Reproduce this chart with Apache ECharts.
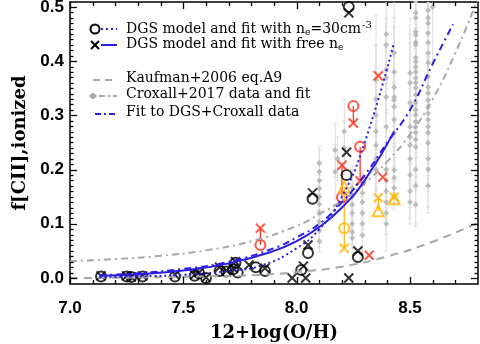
<!DOCTYPE html>
<html>
<head>
<meta charset="utf-8">
<script src="https://cdn.jsdelivr.net/npm/echarts@6/dist/echarts.min.js"></script>
<style>
  html, body { margin: 0; background: #fff; }
  #chart { width: 480px; height: 344px; }
</style>
</head>
<body>
<div id="chart"></div>
<script>
// tick labels
const xMajor = [7.0, 7.5, 8.0, 8.5];
const yMajor = [0.0, 0.1, 0.2, 0.3, 0.4, 0.5];

// fitted curves
const kaufX = [7.0, 7.3, 7.6, 7.8, 8.0, 8.2, 8.4, 8.6, 8.8];
const kaufY = [0.0, 0.001, 0.003, 0.005, 0.011, 0.021, 0.04, 0.067, 0.102];
const croxFitX = [7.0, 7.2, 7.4, 7.6, 7.8, 8.0, 8.1, 8.2, 8.3, 8.4, 8.5, 8.6, 8.7, 8.8];
const croxFitY = [0.031, 0.035, 0.041, 0.051, 0.068, 0.096, 0.118, 0.143, 0.175, 0.215, 0.265, 0.33, 0.415, 0.515];
const fit30X = [7.13, 7.3, 7.5, 7.7, 7.85, 8.0, 8.1, 8.2, 8.3, 8.43];
const fit30Y = [0.001, 0.003, 0.006, 0.013, 0.024, 0.055, 0.09, 0.15, 0.25, 0.435];
const fitFreeX = [7.13, 7.3, 7.5, 7.7, 7.9, 8.0, 8.1, 8.2, 8.3, 8.43];
const fitFreeY = [0.004, 0.007, 0.014, 0.027, 0.05, 0.068, 0.094, 0.13, 0.18, 0.27];
const fitAllX = [7.13, 7.3, 7.5, 7.7, 7.9, 8.0, 8.1, 8.2, 8.3, 8.4, 8.5, 8.6, 8.69];
const fitAllY = [0.005, 0.009, 0.017, 0.03, 0.055, 0.075, 0.1, 0.14, 0.19, 0.25, 0.31, 0.395, 0.468];

// Croxall+2017 regions: metallicity, f[CII] ionized, error
const croxX = [
  8.10, 8.10, 8.10, 8.10, 8.10, 8.10, 8.10, 8.10, 8.10, 8.10,
  8.17, 8.18, 8.17, 8.21, 8.21,
  8.245, 8.245, 8.245, 8.245, 8.245, 8.245, 8.245,
  8.29, 8.29, 8.29, 8.29, 8.29,
  8.35, 8.35, 8.35, 8.35, 8.35, 8.35, 8.35,
  8.395, 8.395, 8.395, 8.395, 8.395, 8.395, 8.395, 8.395, 8.395, 8.395, 8.395, 8.395,
  8.43, 8.43, 8.43, 8.43, 8.43, 8.43, 8.43, 8.43, 8.43, 8.43, 8.43,
  8.50, 8.50, 8.50, 8.50, 8.50, 8.50, 8.50, 8.50, 8.50, 8.50,
  8.525, 8.525, 8.525, 8.525, 8.525, 8.525, 8.525, 8.525, 8.525, 8.525, 8.525, 8.525, 8.525,
  8.525, 8.525, 8.525, 8.525, 8.525, 8.525, 8.525, 8.525, 8.525, 8.525, 8.525, 8.525,
  8.58, 8.58, 8.58, 8.58, 8.58, 8.58, 8.58, 8.58, 8.58, 8.58, 8.58, 8.58, 8.58, 8.58, 8.58,
  8.58, 8.58, 8.58, 8.58, 8.58,
  8.60
];
const croxY = [
  0.212, 0.196, 0.18, 0.165, 0.15, 0.136, 0.121, 0.104, 0.087, 0.068,
  0.236, 0.22, 0.196, 0.27, 0.24,
  0.166, 0.15, 0.135, 0.12, 0.10, 0.085, 0.074,
  0.157, 0.14, 0.12, 0.10, 0.079,
  0.365, 0.33, 0.30, 0.27, 0.245, 0.22, 0.20,
  0.45, 0.43, 0.384, 0.369, 0.334, 0.279, 0.20, 0.18, 0.16, 0.14, 0.12, 0.10,
  0.415, 0.38, 0.352, 0.334, 0.328, 0.316, 0.292, 0.268, 0.199, 0.185, 0.166,
  0.378, 0.36, 0.323, 0.279, 0.26, 0.245, 0.22, 0.19, 0.16, 0.14,
  0.489, 0.48, 0.454, 0.448, 0.435, 0.43, 0.406, 0.399, 0.389, 0.38, 0.369, 0.36, 0.351,
  0.338, 0.323, 0.31, 0.301, 0.288, 0.279, 0.268, 0.255, 0.242, 0.20, 0.17, 0.135,
  0.494, 0.48, 0.47, 0.452, 0.434, 0.415, 0.397, 0.371, 0.352, 0.341, 0.328, 0.316, 0.304, 0.292, 0.279,
  0.268, 0.249, 0.22, 0.20, 0.17,
  0.50
];
const croxErr = [
  0.03, 0.04, 0.03, 0.05, 0.04, 0.03, 0.05, 0.04, 0.03, 0.02,
  0.05, 0.04, 0.05, 0.06, 0.05,
  0.04, 0.05, 0.04, 0.03, 0.04, 0.03, 0.04,
  0.04, 0.05, 0.03, 0.04, 0.03,
  0.12, 0.10, 0.09, 0.11, 0.08, 0.07, 0.06,
  0.10, 0.12, 0.08, 0.11, 0.09, 0.08, 0.06, 0.07, 0.05, 0.06, 0.04, 0.05,
  0.12, 0.10, 0.11, 0.09, 0.08, 0.10, 0.07, 0.09, 0.06, 0.05, 0.04,
  0.10, 0.09, 0.11, 0.08, 0.09, 0.07, 0.08, 0.06, 0.05, 0.04,
  0.14, 0.12, 0.13, 0.10, 0.12, 0.14, 0.09, 0.11, 0.12, 0.08, 0.10, 0.09, 0.11,
  0.08, 0.10, 0.09, 0.07, 0.10, 0.08, 0.09, 0.07, 0.08, 0.06, 0.07, 0.04,
  0.14, 0.12, 0.13, 0.11, 0.12, 0.10, 0.11, 0.09, 0.10, 0.11, 0.08, 0.09, 0.10, 0.08, 0.09,
  0.07, 0.08, 0.06, 0.07, 0.05,
  0.10
];

// DGS galaxies: model with n_e = 30 cm^-3 (circles) and free n_e (crosses)
const dgs30X = [7.137, 7.25, 7.27, 7.32, 7.463, 7.55, 7.57, 7.60, 7.66, 7.73, 7.69, 7.72, 7.74, 7.82, 7.86, 8.02, 8.05, 8.07, 8.22, 8.23, 8.27];
const dgs30Y = [0.003, 0.003, 0.002, 0.003, 0.003, 0.004, 0.009, 0.0, 0.013, 0.028, 0.012, 0.016, 0.01, 0.02, 0.013, 0.015, 0.046, 0.146, 0.19, 0.50, 0.039];
const dgsFreeX = [7.137, 7.25, 7.27, 7.32, 7.463, 7.55, 7.57, 7.60, 7.66, 7.73, 7.69, 7.72, 7.79, 7.86, 7.98, 8.04, 8.03, 8.05, 8.07, 8.22, 8.23, 8.27, 8.23];
const dgsFreeY = [0.004, 0.004, 0.002, 0.004, 0.006, 0.006, 0.01, 0.001, 0.02, 0.03, 0.014, 0.018, 0.024, 0.018, 0.0, 0.0, 0.022, 0.061, 0.157, 0.232, 0.489, 0.05, 0.0];
const red30X = [7.84, 8.20, 8.28, 8.25];
const red30Y = [0.061, 0.149, 0.242, 0.317];
const redFreeX = [7.84, 8.20, 8.28, 8.25, 8.36, 8.38, 8.32];
const redFreeY = [0.092, 0.208, 0.179, 0.286, 0.373, 0.186, 0.042];
const orgTriX = [8.21, 8.36, 8.43];
const orgTriY = [0.168, 0.124, 0.146];
const org30X = [8.21];
const org30Y = [0.092];
const orgFreeX = [8.21, 8.36, 8.43];
const orgFreeY = [0.055, 0.148, 0.149];

const BLUE = '#2b1de6';
const GRAY = '#a8a8a8';
const RED = '#ff2a1a';
const ORANGE = '#ffb400';
const CROSS = 'path://M0,0L10,10M10,0L0,10';
const X_MIN = 7.0, X_MAX = 8.8, Y_MIN = -0.011, Y_MAX = 0.509;

const zip = (xs, ys) => xs.map((x, i) => [x, ys[i]]);

const xMinor = [];
for (let i = 71; i <= 87; i++) if (i % 5) xMinor.push(i / 10);
const yMinor = [];
for (let i = 1; i <= 50; i++) if (i % 10) yMinor.push(i / 100);

const labelStyle = { fontFamily: 'Liberation Sans', fontWeight: 'bold', fontSize: 17, color: '#000' };
const titleStyle = { fontFamily: 'DejaVu Serif', fontWeight: 'bold', fontSize: 18, color: '#000' };

const frameAxis = (position, min, max, extra) => Object.assign({
  type: 'value',
  position: position,
  min: min,
  max: max,
  axisLine: { show: true, onZero: false, lineStyle: { color: '#000', width: 1.5 } },
  axisTick: { show: false },
  axisLabel: { show: false },
  splitLine: { show: false }
}, extra || {});

const errBars = (xs, ys, es) => xs.map((x, i) => [x, ys[i] - es[i], ys[i] + es[i]]);

const vline = (color, width, cap) => (params, api) => {
  const rect = params.coordSys;
  const p1 = api.coord([api.value(0), api.value(1)]);
  const p2 = api.coord([api.value(0), api.value(2)]);
  const yTop = rect.y, yBot = rect.y + rect.height;
  const y1 = Math.min(Math.max(p1[1], yTop), yBot);
  const y2 = Math.min(Math.max(p2[1], yTop), yBot);
  const children = [{
    type: 'line', shape: { x1: p1[0], y1: y1, x2: p2[0], y2: y2 },
    style: { stroke: color, lineWidth: width }
  }];
  if (cap) {
    if (p1[1] <= yBot && p1[1] >= yTop) children.push({ type: 'line', shape: { x1: p1[0] - cap, y1: p1[1], x2: p1[0] + cap, y2: p1[1] }, style: { stroke: color, lineWidth: width } });
    if (p2[1] <= yBot && p2[1] >= yTop) children.push({ type: 'line', shape: { x1: p2[0] - cap, y1: p2[1], x2: p2[0] + cap, y2: p2[1] }, style: { stroke: color, lineWidth: width } });
  }
  return { type: 'group', children: children };
};

const curve = (xs, ys, color, type, width) => ({
  type: 'line', data: zip(xs, ys), showSymbol: false, smooth: true, silent: true,
  lineStyle: { color: color, type: type, width: width || 2 }
});

const marks = (xs, ys, symbol, size, color, width) => ({
  type: 'scatter', data: zip(xs, ys), symbol: symbol, symbolSize: size, silent: true,
  itemStyle: { color: 'rgba(0,0,0,0)', borderColor: color, borderWidth: width || 2 }
});

const chart = echarts.init(document.getElementById('chart'), null, { renderer: 'canvas' });

const legendRows = [
  { y: 29, text: '{t|DGS model and fit with n}{s|e}{t|=30cm}{p|-3}' },
  { y: 45, text: '{t|DGS model and fit with free n}{s|e}' },
  { y: 80, text: '{t|Kaufman+2006 eq.A9}' },
  { y: 96, text: '{t|Croxall+2017 data and fit}' },
  { y: 114, text: '{t|Fit to DGS+Croxall data}' }
];
const legendRich = {
  t: { fontFamily: 'DejaVu Serif', fontSize: 14, color: '#000', lineHeight: 16 },
  s: { fontFamily: 'DejaVu Serif', fontSize: 9, color: '#000', padding: [7, 0, 0, 0], lineHeight: 16 },
  p: { fontFamily: 'DejaVu Serif', fontSize: 10, color: '#000', padding: [0, 0, 8, 1], lineHeight: 16 }
};

const graphics = legendRows.map((r) => ({
  type: 'text', left: 126, top: r.y - 9,
  style: { text: r.text, rich: legendRich, textVerticalAlign: 'top' }
}));
graphics.push(
  { type: 'circle', shape: { cx: 95, cy: 29, r: 4.5 }, style: { fill: 'none', stroke: '#000', lineWidth: 2 } },
  { type: 'line', shape: { x1: 101, y1: 29, x2: 117, y2: 29 }, style: { stroke: BLUE, lineWidth: 2, lineDash: [2, 3] } },
  { type: 'line', shape: { x1: 91, y1: 41, x2: 99, y2: 49 }, style: { stroke: '#000', lineWidth: 2 } },
  { type: 'line', shape: { x1: 99, y1: 41, x2: 91, y2: 49 }, style: { stroke: '#000', lineWidth: 2 } },
  { type: 'line', shape: { x1: 101, y1: 45, x2: 117, y2: 45 }, style: { stroke: BLUE, lineWidth: 2 } },
  { type: 'line', shape: { x1: 93, y1: 80, x2: 117, y2: 80 }, style: { stroke: GRAY, lineWidth: 2, lineDash: [7, 5] } },
  { type: 'circle', shape: { cx: 93, cy: 96, r: 2.5 }, style: { fill: GRAY, stroke: GRAY, lineWidth: 1 } },
  { type: 'line', shape: { x1: 89, y1: 96, x2: 97, y2: 96 }, style: { stroke: GRAY, lineWidth: 1 } },
  { type: 'line', shape: { x1: 99, y1: 96, x2: 117, y2: 96 }, style: { stroke: GRAY, lineWidth: 2, lineDash: [6, 3, 2, 3] } },
  { type: 'line', shape: { x1: 95, y1: 114, x2: 117, y2: 114 }, style: { stroke: BLUE, lineWidth: 2, lineDash: [6, 3, 2, 3] } }
);

chart.setOption({
  animation: false,
  backgroundColor: '#fff',
  grid: { left: 70, right: 2, top: 2, bottom: 60, outerBoundsMode: 'none', containLabel: false },
  xAxis: [
    frameAxis('bottom', X_MIN, X_MAX, {
      name: '12+log(O/H)', nameLocation: 'middle', nameGap: 40, nameTextStyle: titleStyle,
      axisLabel: Object.assign({ show: true, customValues: xMajor, formatter: (v) => v.toFixed(1), margin: 16 }, labelStyle)
    }),
    frameAxis('top', X_MIN, X_MAX)
  ],
  yAxis: [
    frameAxis('left', Y_MIN, Y_MAX, {
      name: 'f[CII],ionized', nameLocation: 'middle', nameGap: 40, nameRotate: 90, nameTextStyle: titleStyle,
      axisLabel: Object.assign({ show: true, customValues: yMajor, formatter: (v) => v.toFixed(1), margin: 6 }, labelStyle)
    }),
    frameAxis('right', Y_MIN, Y_MAX)
  ],
  series: [
    {
      type: 'custom', silent: true, data: errBars(croxX, croxY, croxErr),
      encode: { x: 0, y: [1, 2] }, renderItem: vline('#dedede', 1, 2)
    },
    {
      type: 'scatter', data: zip(croxX, croxY), symbol: 'diamond', symbolSize: 6, silent: true,
      itemStyle: { color: '#b0b0b0' }
    },
    curve(kaufX, kaufY, GRAY, [8, 6]),
    curve(croxFitX, croxFitY, GRAY, [7, 4, 2, 4]),
    curve(fit30X, fit30Y, BLUE, [2, 3]),
    curve(fitFreeX, fitFreeY, BLUE, 'solid'),
    curve(fitAllX, fitAllY, BLUE, [7, 4, 2, 4]),
    {
      type: 'custom', silent: true,
      data: red30X.map((x, i) => [x, red30Y[i], redFreeY[i]]),
      encode: { x: 0, y: [1, 2] }, renderItem: vline(RED, 1.2, 0)
    },
    {
      type: 'custom', silent: true,
      data: orgTriX.map((x, i) => [x, orgTriY[i], orgFreeY[i]]),
      encode: { x: 0, y: [1, 2] }, renderItem: vline(ORANGE, 1.2, 0)
    },
    marks(dgs30X, dgs30Y, 'circle', 10, '#000'),
    marks(dgsFreeX, dgsFreeY, CROSS, 9, '#000'),
    marks(red30X, red30Y, 'circle', 10, RED),
    marks(redFreeX, redFreeY, CROSS, 9, RED),
    marks(orgTriX, orgTriY, 'triangle', 11, ORANGE),
    marks(org30X, org30Y, 'circle', 10, ORANGE),
    marks(orgFreeX, orgFreeY, CROSS, 9, ORANGE)
  ]
});

// inward ticks on all four sides of the frame
const toPxX = (v) => chart.convertToPixel({ xAxisIndex: 0 }, v);
const toPxY = (v) => chart.convertToPixel({ yAxisIndex: 0 }, v);
const frameL = toPxX(X_MIN), frameR = toPxX(X_MAX), frameT = toPxY(Y_MAX), frameB = toPxY(Y_MIN);
const tick = (x1, y1, x2, y2) => ({
  type: 'line', silent: true, z: 10,
  shape: { x1: x1, y1: y1, x2: x2, y2: y2 }, style: { stroke: '#000', lineWidth: 1.3 }
});
const addX = (v, len) => {
  const x = Math.round(toPxX(v)) + 0.5;
  graphics.push(tick(x, frameB, x, frameB - len), tick(x, frameT, x, frameT + len));
};
const addY = (v, len) => {
  const y = Math.round(toPxY(v)) + 0.5;
  graphics.push(tick(frameL, y, frameL + len, y), tick(frameR, y, frameR - len, y));
};
xMajor.forEach((v) => addX(v, 7));
xMinor.forEach((v) => addX(v, 4));
yMajor.forEach((v) => addY(v, 7));
yMinor.forEach((v) => addY(v, 3.5));

chart.setOption({ graphic: graphics });
</script>
</body>
</html>
